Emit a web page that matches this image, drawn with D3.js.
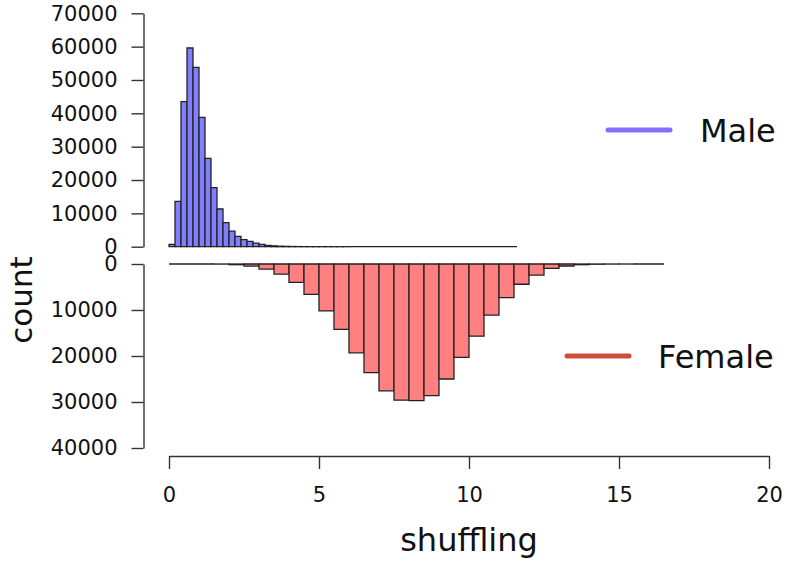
<!DOCTYPE html>
<html>
<head>
<meta charset="utf-8">
<script src="https://cdn.jsdelivr.net/npm/d3@7"></script>
<style>
  body { margin: 0; background: #fff; }
  svg text { font-family: "DejaVu Sans", sans-serif; fill: #111; }
  .axis path, .axis line { stroke: #333; stroke-width: 1.4; }
  .axis text { font-size: 21px; fill: #111; }
</style>
</head>
<body>
<div id="graph"></div>
<script>
// male histogram, bins of 0.2 from 0 to 11.6
let maleStart = 0;
let maleStep = 0.2;
let maleCounts = [700, 13600, 43500, 59600, 53800, 38800, 26500, 17700, 11300, 7200,
  4700, 3100, 2100, 1600, 1100, 700, 400, 250, 150, 100,
  60, 40, 25, 15, 10, 5, 3, 2, 1, 1,
  0, 0, 0, 0, 0, 0, 0, 0, 0, 0,
  0, 0, 0, 0, 0, 0, 0, 0, 0, 0,
  0, 0, 0, 0, 0, 0, 0, 0];

// female histogram, bins of 0.5 from 0 to 16.5
let femaleStart = 0;
let femaleStep = 0.5;
let femaleCounts = [0, 0, 0, 20, 150, 450, 1100, 2200, 4000, 6600,
  10200, 14200, 19300, 23600, 27600, 29600, 29700, 28600, 25000, 20300,
  15700, 11100, 7300, 4400, 2400, 950, 430, 150, 50, 15,
  5, 0, 0];

let xTicks = [0, 5, 10, 15, 20];
let upperTicks = [0, 10000, 20000, 30000, 40000, 50000, 60000, 70000];
let lowerTicks = [0, 10000, 20000, 30000, 40000];

let seriesNames = ["Male", "Female"];
let legendColors = ["#836FFF", "#CD4F39"];

var svgWidth = 786;
var svgHeight = 565;

var svg = d3.select("#graph")
  .append("svg")
  .attr("width", svgWidth)
  .attr("height", svgHeight);

var x = d3.scaleLinear().domain([0, 20]).range([169, 769]);
var yUp = d3.scaleLinear().domain([0, 70000]).range([246.7, 13.3]);
var yLow = d3.scaleLinear().domain([0, 40000]).range([264, 448]);

// build bins from the arrays
var maleBins = maleCounts.map((c, i) => ({ x0: maleStart + i * maleStep, x1: maleStart + (i + 1) * maleStep, n: c }));
var femaleBins = femaleCounts.map((c, i) => ({ x0: femaleStart + i * femaleStep, x1: femaleStart + (i + 1) * femaleStep, n: c }));

// bars as paths so empty bins still show their border line (like R's hist)
function barPath(d, y) {
  var p = d3.path();
  p.moveTo(x(d.x0), y(0));
  p.lineTo(x(d.x0), y(d.n));
  p.lineTo(x(d.x1), y(d.n));
  p.lineTo(x(d.x1), y(0));
  p.closePath();
  return p.toString();
}

// upper histogram (male)
svg.append("g").selectAll("path")
  .data(maleBins)
  .enter().append("path")
  .attr("d", d => barPath(d, yUp))
  .attr("fill", "#8080FF")
  .attr("stroke", "#222")
  .attr("stroke-width", 1.3);

// lower histogram (female), drawn downwards
svg.append("g").selectAll("path")
  .data(femaleBins)
  .enter().append("path")
  .attr("d", d => barPath(d, yLow))
  .attr("fill", "#FF8080")
  .attr("stroke", "#222")
  .attr("stroke-width", 1.3);

// axes
svg.append("g")
  .classed("axis", true)
  .attr("transform", "translate(143.5,0)")
  .call(d3.axisLeft(yUp).tickValues(upperTicks).tickSize(12).tickSizeOuter(0).tickPadding(14).tickFormat(d3.format("d")));

svg.append("g")
  .classed("axis", true)
  .attr("transform", "translate(143.5,0)")
  .call(d3.axisLeft(yLow).tickValues(lowerTicks).tickSize(12).tickSizeOuter(0).tickPadding(14).tickFormat(d3.format("d")));

svg.append("g")
  .classed("axis", true)
  .attr("transform", "translate(0,456)")
  .call(d3.axisBottom(x).tickValues(xTicks).tickSize(13).tickSizeOuter(0).tickPadding(18));

svg.selectAll(".axis .domain").attr("fill", "none");

// axis titles
svg.append("text")
  .attr("x", 469)
  .attr("y", 551)
  .attr("text-anchor", "middle")
  .style("font-size", "32px")
  .text("shuffling");

svg.append("text")
  .attr("transform", "translate(32,300) rotate(-90)")
  .attr("text-anchor", "middle")
  .style("font-size", "31px")
  .text("count");

// legends
var legendPos = [{ x1: 608, x2: 670, y: 130, tx: 700 }, { x1: 567, x2: 629, y: 356, tx: 658 }];
seriesNames.forEach((name, i) => {
  var p = legendPos[i];
  svg.append("line")
    .attr("x1", p.x1).attr("x2", p.x2)
    .attr("y1", p.y).attr("y2", p.y)
    .attr("stroke", legendColors[i])
    .attr("stroke-width", 5)
    .attr("stroke-linecap", "round");
  svg.append("text")
    .attr("x", p.tx)
    .attr("y", p.y + 12)
    .style("font-size", "32px")
    .text(name);
});
</script>
</body>
</html>
